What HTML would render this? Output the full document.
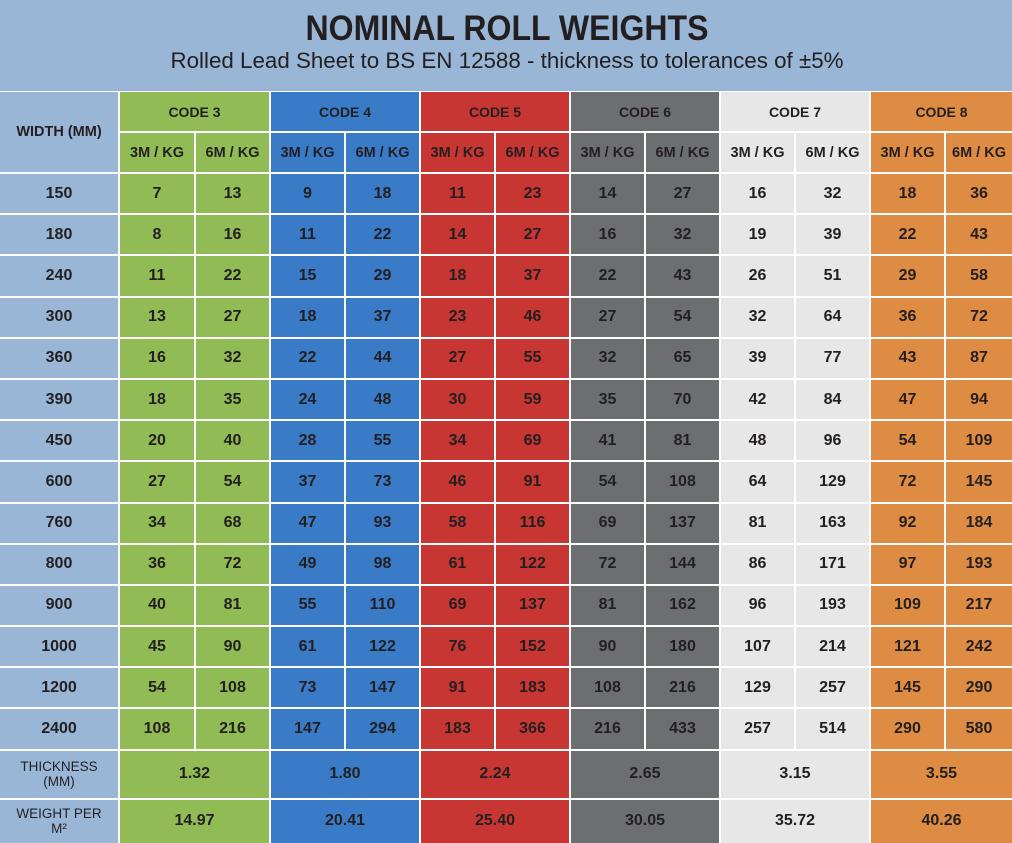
<!DOCTYPE html>
<html><head><meta charset="utf-8">
<style>
html,body{margin:0;padding:0;background:#fff;}
body{width:1012px;height:843px;position:relative;overflow:hidden;font-family:"Liberation Sans",Arial,sans-serif;color:#231f20;}
.band{position:absolute;left:0;top:0;width:1012px;height:91px;background:#99b6d6;}
.band svg{position:absolute;left:0;top:0;}
.grid{position:absolute;top:92px;left:0;width:1012px;display:grid;
grid-template-columns:118px 74px repeat(10,73px) 66px;column-gap:2px;row-gap:2px;
grid-template-rows:39px 39px repeat(14,39.2px) 47px 43px;}
.grid>div{display:flex;align-items:center;justify-content:center;text-align:center;font-weight:bold;font-size:16px;}
.w{background:#99b6d6;}
.g{background:#91bb55;}
.b{background:#3a7bc8;}
.r{background:#c83634;}
.k{background:#6d6e72;}
.l{background:#e7e7e7;}
.o{background:#de8c43;}
.h1{font-size:14px !important;}
.h2{font-size:14.5px !important;}
.s2{grid-column:span 2;}
.wl{grid-row:span 2;font-size:14.5px !important;}
.lab{font-weight:normal !important;font-size:13.5px !important;line-height:15px;}
</style></head><body>
<div class="band">
<svg width="1012" height="91" xmlns="http://www.w3.org/2000/svg">
<text x="507" y="40" text-anchor="middle" font-family="Liberation Sans, Arial, sans-serif" font-weight="bold" font-size="35" fill="#231f20" textLength="403" lengthAdjust="spacingAndGlyphs">NOMINAL ROLL WEIGHTS</text>
<text x="507" y="68" text-anchor="middle" font-family="Liberation Sans, Arial, sans-serif" font-size="22" fill="#231f20" textLength="673" lengthAdjust="spacingAndGlyphs">Rolled Lead Sheet to BS EN 12588 - thickness to tolerances of ±5%</text>
</svg>
</div>
<div class="grid">
<div class="w wl">WIDTH (MM)</div>
<div class="g s2 h1">CODE 3</div><div class="b s2 h1">CODE 4</div><div class="r s2 h1">CODE 5</div><div class="k s2 h1">CODE 6</div><div class="l s2 h1">CODE 7</div><div class="o s2 h1">CODE 8</div>
<div class="g h2">3M / KG</div><div class="g h2">6M / KG</div><div class="b h2">3M / KG</div><div class="b h2">6M / KG</div><div class="r h2">3M / KG</div><div class="r h2">6M / KG</div><div class="k h2">3M / KG</div><div class="k h2">6M / KG</div><div class="l h2">3M / KG</div><div class="l h2">6M / KG</div><div class="o h2">3M / KG</div><div class="o h2">6M / KG</div>

<div class="w">150</div><div class="g">7</div><div class="g">13</div><div class="b">9</div><div class="b">18</div><div class="r">11</div><div class="r">23</div><div class="k">14</div><div class="k">27</div><div class="l">16</div><div class="l">32</div><div class="o">18</div><div class="o">36</div>
<div class="w">180</div><div class="g">8</div><div class="g">16</div><div class="b">11</div><div class="b">22</div><div class="r">14</div><div class="r">27</div><div class="k">16</div><div class="k">32</div><div class="l">19</div><div class="l">39</div><div class="o">22</div><div class="o">43</div>
<div class="w">240</div><div class="g">11</div><div class="g">22</div><div class="b">15</div><div class="b">29</div><div class="r">18</div><div class="r">37</div><div class="k">22</div><div class="k">43</div><div class="l">26</div><div class="l">51</div><div class="o">29</div><div class="o">58</div>
<div class="w">300</div><div class="g">13</div><div class="g">27</div><div class="b">18</div><div class="b">37</div><div class="r">23</div><div class="r">46</div><div class="k">27</div><div class="k">54</div><div class="l">32</div><div class="l">64</div><div class="o">36</div><div class="o">72</div>
<div class="w">360</div><div class="g">16</div><div class="g">32</div><div class="b">22</div><div class="b">44</div><div class="r">27</div><div class="r">55</div><div class="k">32</div><div class="k">65</div><div class="l">39</div><div class="l">77</div><div class="o">43</div><div class="o">87</div>
<div class="w">390</div><div class="g">18</div><div class="g">35</div><div class="b">24</div><div class="b">48</div><div class="r">30</div><div class="r">59</div><div class="k">35</div><div class="k">70</div><div class="l">42</div><div class="l">84</div><div class="o">47</div><div class="o">94</div>
<div class="w">450</div><div class="g">20</div><div class="g">40</div><div class="b">28</div><div class="b">55</div><div class="r">34</div><div class="r">69</div><div class="k">41</div><div class="k">81</div><div class="l">48</div><div class="l">96</div><div class="o">54</div><div class="o">109</div>
<div class="w">600</div><div class="g">27</div><div class="g">54</div><div class="b">37</div><div class="b">73</div><div class="r">46</div><div class="r">91</div><div class="k">54</div><div class="k">108</div><div class="l">64</div><div class="l">129</div><div class="o">72</div><div class="o">145</div>
<div class="w">760</div><div class="g">34</div><div class="g">68</div><div class="b">47</div><div class="b">93</div><div class="r">58</div><div class="r">116</div><div class="k">69</div><div class="k">137</div><div class="l">81</div><div class="l">163</div><div class="o">92</div><div class="o">184</div>
<div class="w">800</div><div class="g">36</div><div class="g">72</div><div class="b">49</div><div class="b">98</div><div class="r">61</div><div class="r">122</div><div class="k">72</div><div class="k">144</div><div class="l">86</div><div class="l">171</div><div class="o">97</div><div class="o">193</div>
<div class="w">900</div><div class="g">40</div><div class="g">81</div><div class="b">55</div><div class="b">110</div><div class="r">69</div><div class="r">137</div><div class="k">81</div><div class="k">162</div><div class="l">96</div><div class="l">193</div><div class="o">109</div><div class="o">217</div>
<div class="w">1000</div><div class="g">45</div><div class="g">90</div><div class="b">61</div><div class="b">122</div><div class="r">76</div><div class="r">152</div><div class="k">90</div><div class="k">180</div><div class="l">107</div><div class="l">214</div><div class="o">121</div><div class="o">242</div>
<div class="w">1200</div><div class="g">54</div><div class="g">108</div><div class="b">73</div><div class="b">147</div><div class="r">91</div><div class="r">183</div><div class="k">108</div><div class="k">216</div><div class="l">129</div><div class="l">257</div><div class="o">145</div><div class="o">290</div>
<div class="w">2400</div><div class="g">108</div><div class="g">216</div><div class="b">147</div><div class="b">294</div><div class="r">183</div><div class="r">366</div><div class="k">216</div><div class="k">433</div><div class="l">257</div><div class="l">514</div><div class="o">290</div><div class="o">580</div>

<div class="w lab">THICKNESS<br>(MM)</div><div class="g s2">1.32</div><div class="b s2">1.80</div><div class="r s2">2.24</div><div class="k s2">2.65</div><div class="l s2">3.15</div><div class="o s2">3.55</div>
<div class="w lab">WEIGHT PER<br>M²</div><div class="g s2">14.97</div><div class="b s2">20.41</div><div class="r s2">25.40</div><div class="k s2">30.05</div><div class="l s2">35.72</div><div class="o s2">40.26</div>
</div>
</body></html>
